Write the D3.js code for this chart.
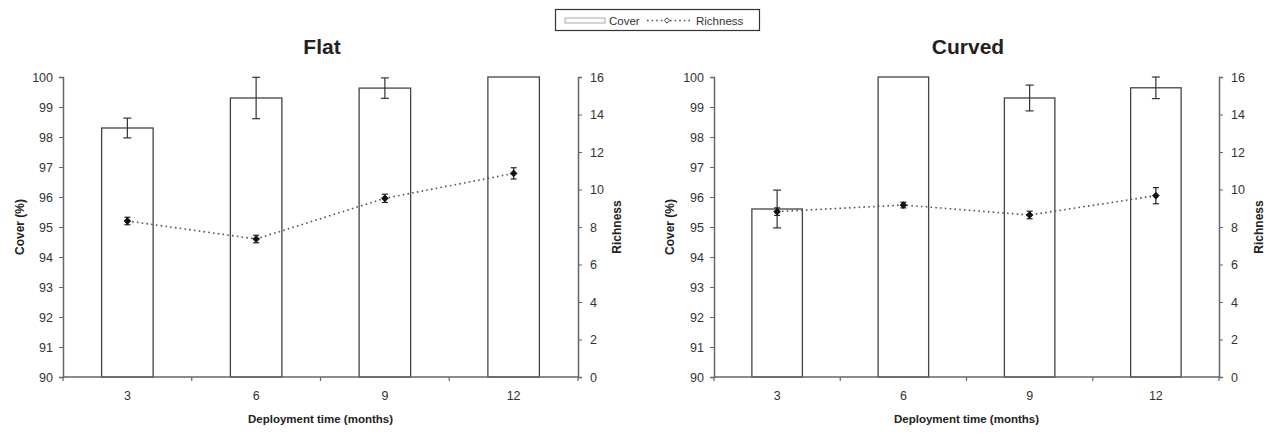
<!DOCTYPE html>
<html><head><meta charset="utf-8">
<script src="https://cdn.jsdelivr.net/npm/d3@7"></script>
<style>body{margin:0;background:#fff;}svg{display:block;font-family:"Liberation Sans",Arial,sans-serif;}</style>
</head><body><svg id="c" width="1274" height="434"></svg>
<script>
const months = ["3", "6", "9", "12"];
const flatCover = [98.3, 99.3, 99.63, 100];
const flatCoverErr = [0.33, 0.69, 0.34, 0];
const flatRich = [8.32, 7.36, 9.53, 10.86];
const flatRichErr = [0.2, 0.2, 0.22, 0.3];
const curvedCover = [95.6, 100, 99.3, 99.64];
const curvedCoverErr = [0.63, 0, 0.43, 0.36];
const curvedRich = [8.82, 9.17, 8.64, 9.67];
const curvedRichErr = [0.2, 0.15, 0.2, 0.43];
const coverTicks = [90, 91, 92, 93, 94, 95, 96, 97, 98, 99, 100];
const richTicks = [0, 2, 4, 6, 8, 10, 12, 14, 16];
const panelTitles = ["Flat", "Curved"];

const svg = d3.select("#c");
const axisColor = "#666", textColor = "#333", barStroke = "#444";
const plotTop = 77, plotBottom = 377;

function panel(title, x0, x1, cover, coverErr, rich, richErr, titleX, leftLabelX, rightLabelX) {
  const g = svg.append("g");
  const x = d3.scaleBand().domain(months).range([x0, x1]).paddingInner(0.6).paddingOuter(0.3);
  const y = d3.scaleLinear().domain([90, 100]).range([plotBottom, plotTop]);
  const y2 = d3.scaleLinear().domain([0, 16]).range([plotBottom, plotTop]);
  const data = months.map((m, i) => ({m, c: cover[i], ce: coverErr[i], r: rich[i], re: richErr[i]}));

  g.selectAll("rect.bar").data(data).join("rect")
    .attr("x", d => x(d.m)).attr("width", x.bandwidth())
    .attr("y", d => y(d.c)).attr("height", d => y(90) - y(d.c))
    .attr("fill", "#fff").attr("stroke", barStroke).attr("stroke-width", 1.3);

  const bc = d => x(d.m) + x.bandwidth()/2;
  const eb = g.selectAll("g.ceb").data(data.filter(d => d.ce > 0)).join("g").attr("stroke", "#333").attr("stroke-width", 1.2);
  eb.append("line").attr("x1", bc).attr("x2", bc).attr("y1", d => y(d.c + d.ce)).attr("y2", d => y(d.c - d.ce));
  eb.append("line").attr("x1", d => bc(d) - 4).attr("x2", d => bc(d) + 4).attr("y1", d => y(d.c + d.ce)).attr("y2", d => y(d.c + d.ce));
  eb.append("line").attr("x1", d => bc(d) - 4).attr("x2", d => bc(d) + 4).attr("y1", d => y(d.c - d.ce)).attr("y2", d => y(d.c - d.ce));

  g.append("path").datum(data)
    .attr("d", d3.line().x(bc).y(d => y2(d.r)))
    .attr("fill", "none").attr("stroke", "#555").attr("stroke-width", 1.6).attr("stroke-dasharray", "1.6,3.2");
  const rb = g.selectAll("g.reb").data(data).join("g").attr("stroke", "#222").attr("stroke-width", 1.2);
  rb.append("line").attr("x1", bc).attr("x2", bc).attr("y1", d => y2(d.r + d.re)).attr("y2", d => y2(d.r - d.re));
  rb.append("line").attr("x1", d => bc(d) - 3).attr("x2", d => bc(d) + 3).attr("y1", d => y2(d.r + d.re)).attr("y2", d => y2(d.r + d.re));
  rb.append("line").attr("x1", d => bc(d) - 3).attr("x2", d => bc(d) + 3).attr("y1", d => y2(d.r - d.re)).attr("y2", d => y2(d.r - d.re));
  g.selectAll("path.mk").data(data).join("path")
    .attr("d", d3.symbol(d3.symbolDiamond2, 30))
    .attr("transform", d => `translate(${bc(d)},${y2(d.r)})`)
    .attr("fill", "#111").attr("stroke", "#111").attr("stroke-width", 0.8);

  const ax = g.append("g").attr("transform", `translate(${x0},0)`)
    .call(d3.axisLeft(y).tickValues(coverTicks).tickSize(4).tickPadding(6));
  const ax2 = g.append("g").attr("transform", `translate(${x1},0)`)
    .call(d3.axisRight(y2).tickValues(richTicks).tickSize(4).tickPadding(8));
  const bx = g.append("g").attr("transform", `translate(0,${plotBottom})`)
    .call(d3.axisBottom(x).tickSize(0).tickPadding(14));
  const bounds = [x0].concat(months.slice(0, months.length - 1).map(m => x(m) + x.bandwidth() + x.step() * 0.3)).concat([x1]);
  g.selectAll("line.bt").data(bounds).join("line")
    .attr("x1", d => d).attr("x2", d => d).attr("y1", plotBottom).attr("y2", plotBottom + 4)
    .attr("stroke", axisColor).attr("stroke-width", 1.2);
  [ax, ax2, bx].forEach(a => {
    a.selectAll("path.domain").attr("stroke", axisColor).attr("stroke-width", 1.5);
    a.selectAll(".tick line").attr("stroke", axisColor).attr("stroke-width", 1);
    a.selectAll("text").attr("fill", textColor).style("font-size", "12.5px").style("font-family", '"Liberation Sans",Arial,sans-serif');
  });
  bx.select("path.domain").attr("d", `M${x0},0H${x1}`);

  g.append("text").attr("x", titleX).attr("y", 54).attr("text-anchor", "middle")
    .attr("font-weight", "bold").attr("font-size", 21).attr("fill", "#222").text(title);
  g.append("text").attr("x", (x0 + x1)/2).attr("y", 423).attr("text-anchor", "middle")
    .attr("font-weight", "bold").attr("font-size", 11.5).attr("fill", "#222").text("Deployment time (months)");
  g.append("text").attr("transform", `translate(${leftLabelX},${(plotTop+plotBottom)/2}) rotate(-90)`).attr("text-anchor", "middle")
    .attr("font-weight", "bold").attr("font-size", 12).attr("fill", "#222").text("Cover (%)");
  g.append("text").attr("transform", `translate(${rightLabelX},${(plotTop+plotBottom)/2}) rotate(-90)`).attr("text-anchor", "middle")
    .attr("font-weight", "bold").attr("font-size", 12).attr("fill", "#222").text("Richness");
}

panel(panelTitles[0], 63, 578, flatCover, flatCoverErr, flatRich, flatRichErr, 322, 24, 621);
panel(panelTitles[1], 714, 1219, curvedCover, curvedCoverErr, curvedRich, curvedRichErr, 968, 674, 1263);

const lg = svg.append("g");
lg.append("rect").attr("x", 555.5).attr("y", 9.5).attr("width", 204).attr("height", 21).attr("fill", "#fff").attr("stroke", "#333").attr("stroke-width", 1.2);
lg.append("rect").attr("x", 565).attr("y", 18).attr("width", 40).attr("height", 5).attr("fill", "#fff").attr("stroke", "#aaa").attr("stroke-width", 1);
lg.append("text").attr("x", 609).attr("y", 24.5).attr("font-size", 11.5).attr("fill", "#333").text("Cover");
lg.append("line").attr("x1", 647).attr("x2", 692).attr("y1", 20.5).attr("y2", 20.5).attr("stroke", "#555").attr("stroke-width", 1.4).attr("stroke-dasharray", "1.6,3");
lg.append("path").attr("d", d3.symbol(d3.symbolDiamond2, 18)).attr("transform", "translate(667,20.5)").attr("fill", "#fff").attr("stroke", "#333").attr("stroke-width", 1);
lg.append("text").attr("x", 696).attr("y", 24.5).attr("font-size", 11.5).attr("fill", "#333").text("Richness");
</script></body></html>
